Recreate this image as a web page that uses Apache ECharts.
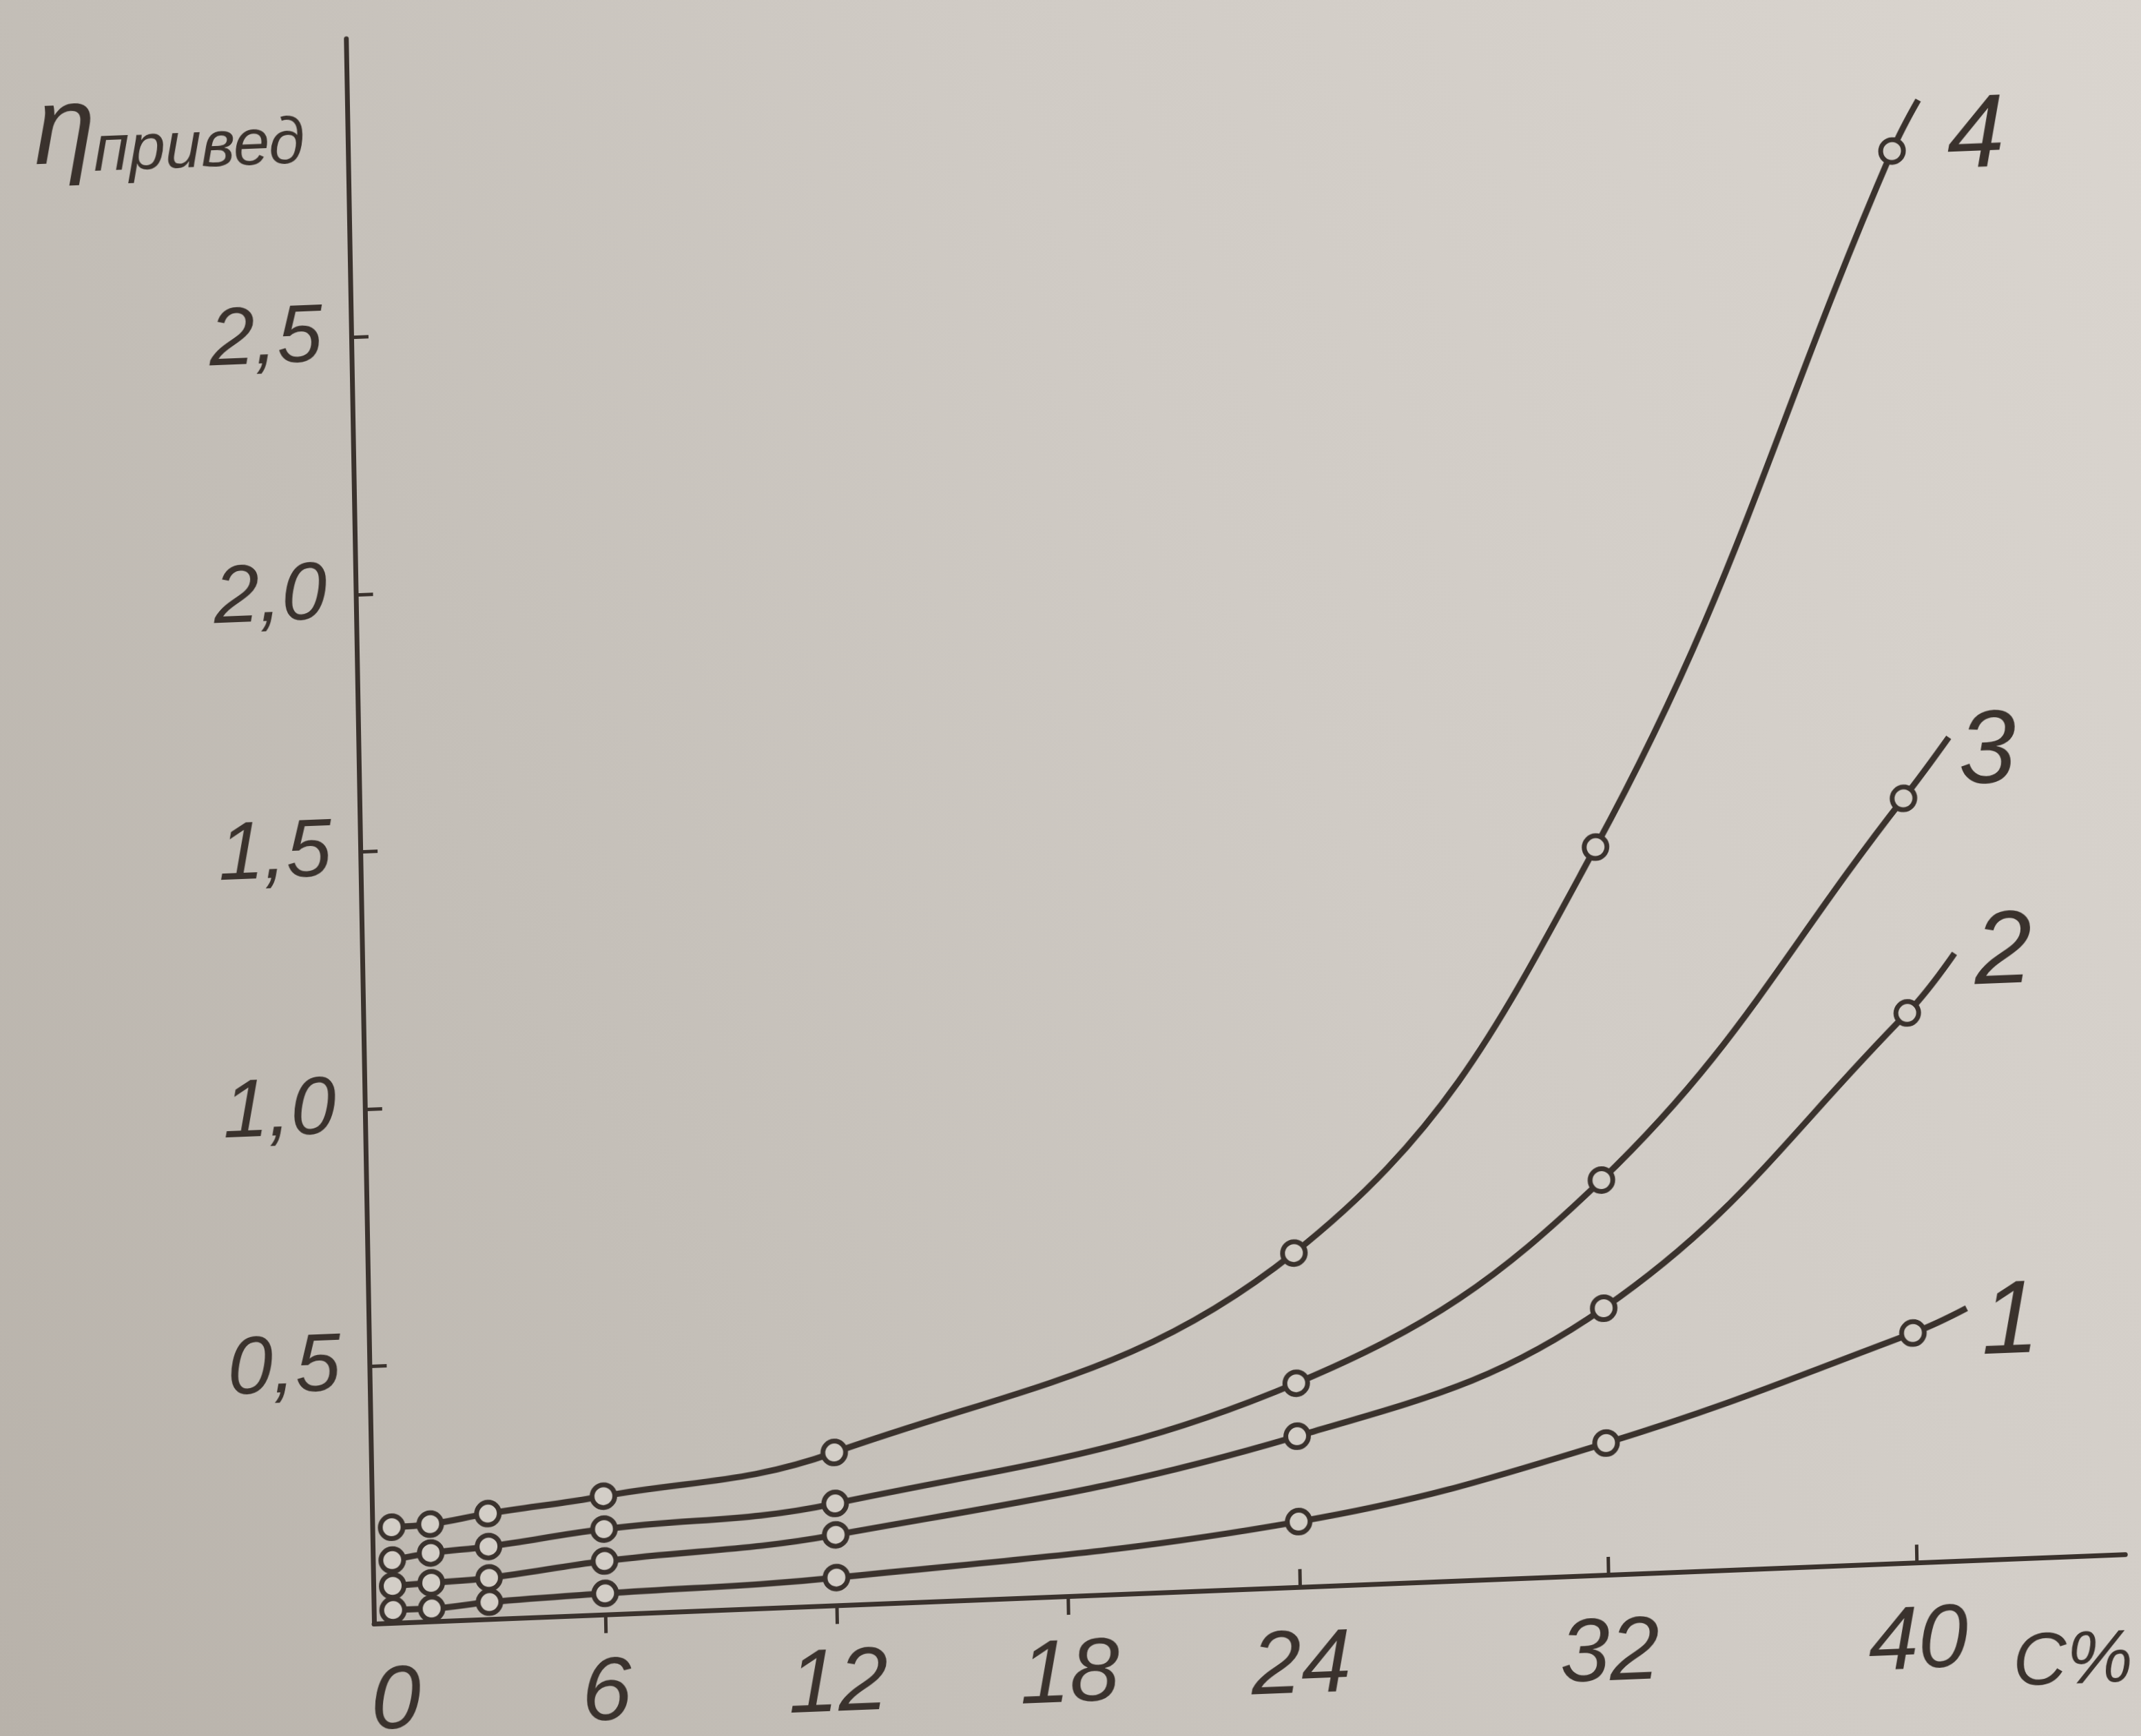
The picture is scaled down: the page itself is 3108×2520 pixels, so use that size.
<!DOCTYPE html>
<html>
<head>
<meta charset="utf-8">
<title>η привед — C%</title>
<script src="https://cdn.jsdelivr.net/npm/echarts@6/dist/echarts.min.js"></script>
<style>
  html, body {
    margin: 0;
    padding: 0;
    width: 3108px;
    height: 2520px;
    overflow: hidden;
    background: linear-gradient(65deg, #b8b2aa 0%, #c4bfb8 30%, #d0cbc5 60%, #dad5cf 100%);
  }
  #main {
    position: absolute;
    left: 0;
    top: 0;
    width: 3208px;
    height: 2650px;
    /* the page was photographed a little askew */
    transform-origin: 543px 2357px;
    transform: matrix(0.99922, -0.0396, 0.0177, 0.99985, 0, 0);
  }
</style>
</head>
<body>
<div id="main"></div>
<script>
// concentration, C %
const conc = [0.5, 1.5, 3, 6, 12, 24, 32, 40];
// reduced viscosity for the four curves
const curve1 = [0.025, 0.025, 0.033, 0.041, 0.054, 0.127, 0.256, 0.446];
const curve2 = [0.072, 0.075, 0.080, 0.104, 0.137, 0.293, 0.518, 1.068];
const curve3 = [0.122, 0.133, 0.141, 0.166, 0.198, 0.396, 0.767, 1.485];
const curve4 = [0.186, 0.189, 0.205, 0.230, 0.297, 0.649, 1.414, 2.743];
// where each drawn line stops, past the last circle
const curveEnds = [[41.4, 0.49], [41.25, 1.18], [41.2, 1.60], [40.7, 2.84]];
const curveNames = ['1', '2', '3', '4'];

const xTicksDown = [6, 12, 18];
const xTicksUp = [24, 32, 40];
const xLabels = [0, 6, 12, 18, 24, 32, 40];
const yLabels = [0.5, 1.0, 1.5, 2.0, 2.5];

const xMax = 45.4;
const yMax = 3.08;

const ink = '#3a322d';
const paper = '#d3cec7';
const font = "'Liberation Sans', 'DejaVu Sans', sans-serif";

// layout (chart px); the canvas is a bit larger than the page so nothing is cut after the skew
const canvasW = 3208;
const canvasH = 2650;
const origin = [543, 2357];
const pxPerC = 56.04;
const pxPerV = 747.1;
const skew = { a: 0.99922, b: -0.0396, c: 0.0177, d: 0.99985 };

// photo position -> chart position (undo the css matrix)
function toChart (X, Y) {
  const dx = X - origin[0];
  const dy = Y - origin[1];
  const det = skew.a * skew.d - skew.b * skew.c;
  return [
    origin[0] + (skew.d * dx - skew.c * dy) / det,
    origin[1] + (-skew.b * dx + skew.a * dy) / det
  ];
}

function makeSeries (vals, idx) {
  const data = conc.map((c, i) => [c, vals[i]]);
  data.push({ value: curveEnds[idx], symbol: 'none' });
  return {
    type: 'line',
    name: curveNames[idx],
    data: data,
    smooth: 0.4,
    symbol: 'circle',
    symbolSize: 33,
    lineStyle: { color: ink, width: 9 },
    itemStyle: { color: paper, borderColor: ink, borderWidth: 7, opacity: 1 },
    z: 3,
    silent: true
  };
}

function textAt (X, Y, text, size, align) {
  const p = toChart(X, Y);
  return {
    type: 'text',
    x: p[0],
    y: p[1],
    style: {
      text: text,
      font: 'italic ' + size + 'px ' + font,
      fill: ink,
      align: align || 'center',
      verticalAlign: 'middle'
    },
    z: 10
  };
}

const labelPos = [[2868, 200], [2885, 1095], [2908, 1385], [2918, 1922]].reverse();

const chart = echarts.init(document.getElementById('main'), null, { renderer: 'canvas' });

const option = {
  animation: false,
  backgroundColor: 'transparent',
  grid: {
    left: origin[0],
    top: origin[1] - yMax * pxPerV,
    right: canvasW - (origin[0] + xMax * pxPerC),
    bottom: canvasH - origin[1],
    containLabel: false,
    outerBoundsMode: 'none'
  },
  xAxis: [{
    type: 'value',
    min: 0,
    max: xMax,
    position: 'bottom',
    splitLine: { show: false },
    axisLine: { lineStyle: { color: ink, width: 7 } },
    axisTick: {
      customValues: xTicksDown,
      inside: false,
      length: 27,
      lineStyle: { color: ink, width: 5 }
    },
    axisLabel: {
      customValues: xLabels,
      margin: 52,
      color: ink,
      fontSize: 130,
      fontStyle: 'italic',
      fontFamily: font,
      formatter: v => (v === 0 ? '{z|0}' : String(v)),
      rich: {
        z: { fontSize: 130, fontStyle: 'italic', fontFamily: font, color: ink, padding: [0, 0, 0, 60] }
      }
    }
  }, {
    type: 'value',
    min: 0,
    max: xMax,
    position: 'bottom',
    offset: 0,
    splitLine: { show: false },
    axisLine: { show: false },
    axisTick: {
      customValues: xTicksUp,
      inside: true,
      length: 26,
      lineStyle: { color: ink, width: 5 }
    },
    axisLabel: { show: false }
  }],
  yAxis: {
    type: 'value',
    min: 0,
    max: yMax,
    splitLine: { show: false },
    axisLine: { lineStyle: { color: ink, width: 7 } },
    axisTick: {
      customValues: yLabels,
      inside: true,
      length: 25,
      lineStyle: { color: ink, width: 5 }
    },
    axisLabel: {
      customValues: yLabels,
      margin: 42,
      color: ink,
      fontSize: 118,
      fontStyle: 'italic',
      fontFamily: font,
      formatter: v => v.toFixed(1).replace('.', ',')
    }
  },
  series: [curve1, curve2, curve3, curve4].map(makeSeries),
  graphic: [
    textAt(94, 192, 'η', 160),
    textAt(136, 222, 'привед', 94, 'left'),
    textAt(3096, 2410, 'C%', 108, 'right')
  ].concat(labelPos.map((p, i) => textAt(p[0], p[1], curveNames[i], 150)))
};

chart.setOption(option);
</script>
</body>
</html>
